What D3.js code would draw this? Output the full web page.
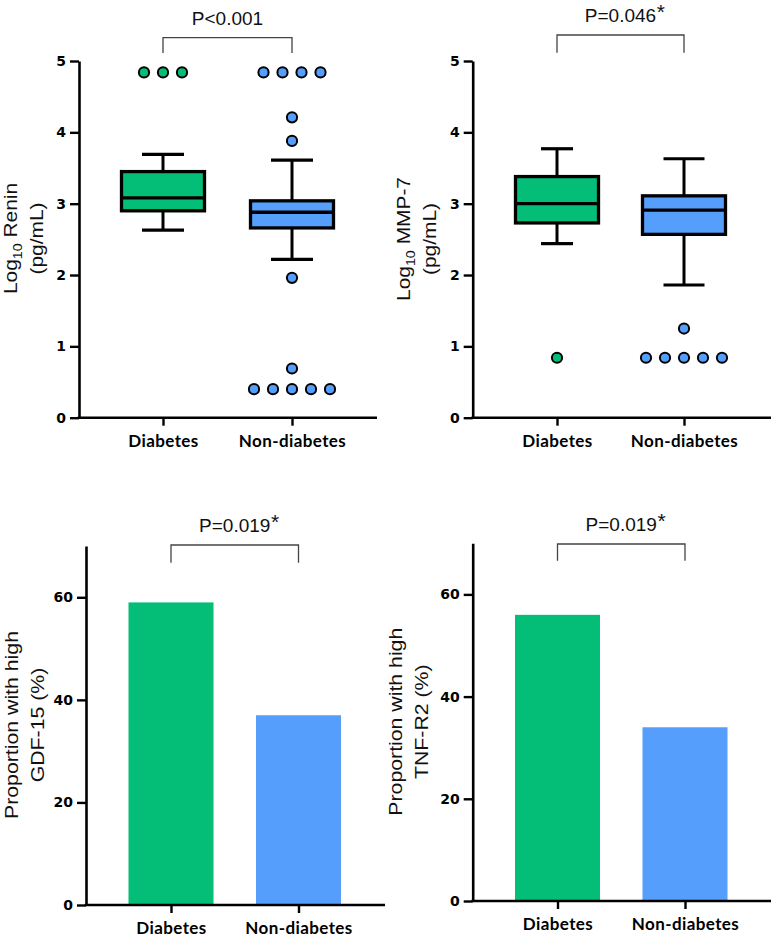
<!DOCTYPE html>
<html>
<head>
<meta charset="utf-8">
<script src="https://cdn.jsdelivr.net/npm/d3@7"></script>
<style>
  html, body { margin: 0; padding: 0; background: #fff; }
  svg { display: block; }
</style>
</head>
<body>
<svg id="chart" width="771" height="937"></svg>
<script>
// ---------------- DATA ----------------
const categories = ["Diabetes", "Non-diabetes"];

// box stats: [whisker low, Q1, median, Q3, whisker high]
const reninDiabetesBox = [2.63, 2.90, 3.08, 3.45, 3.69];
const reninNonDiabetesBox = [2.22, 2.66, 2.88, 3.04, 3.61];
const reninDiabetesOutliers = [4.84, 4.84, 4.84];
const reninNonDiabetesOutliers = [4.84, 4.84, 4.84, 4.84, 4.21, 3.88, 1.96, 0.69, 0.40, 0.40, 0.40, 0.40, 0.40];

const mmp7DiabetesBox = [2.44, 2.73, 3.00, 3.38, 3.77];
const mmp7NonDiabetesBox = [1.86, 2.57, 2.91, 3.11, 3.63];
const mmp7DiabetesOutliers = [0.84];
const mmp7NonDiabetesOutliers = [1.25, 0.84, 0.84, 0.84, 0.84, 0.84];

const gdf15Proportion = [59, 37];
const tnfr2Proportion = [56, 34];

const boxTicks = [0, 1, 2, 3, 4, 5];
const barTicks = [0, 20, 40, 60];

const pLabels = ["P<0.001", "P=0.046", "P=0.019", "P=0.019"];
const pStars = ["", "*", "*", "*"];

const colors = ["#04BE78", "#559EFC"];

// ---------------- DRAWING ----------------
const svg = d3.select("#chart");
const tickFont = "'DejaVu Sans', Verdana, sans-serif";
const titleFont = "'Liberation Sans', Arial, sans-serif";
const catFont = "Lato, 'Open Sans', sans-serif";

function drawAxes(g, cfg, yScale, xScale, ticks) {
  const yAxis = d3.axisLeft(yScale).tickValues(ticks).tickFormat(d3.format("d"))
    .tickSize(9).tickPadding(4).tickSizeOuter(0);
  const ya = g.append("g").attr("transform", `translate(${cfg.axisX},0)`).call(yAxis);
  ya.select(".domain").attr("stroke", "#000").attr("stroke-width", 2.6);
  ya.selectAll(".tick line").attr("stroke", "#000").attr("stroke-width", 2.4);
  ya.selectAll(".tick text").attr("fill", "#000").style("font-family", tickFont)
    .style("font-size", "14px").style("font-weight", "bold");

  const y0 = yScale(0);
  const xAxis = d3.axisBottom(xScale).tickSize(8).tickPadding(9).tickSizeOuter(0);
  const xa = g.append("g").attr("transform", `translate(0,${y0})`).call(xAxis);
  xa.select(".domain").remove();
  xa.selectAll(".tick line").attr("stroke", "#000").attr("stroke-width", 2.4);
  xa.selectAll(".tick text").attr("fill", "#000").style("font-family", catFont)
    .style("font-size", "17px").style("font-weight", "bold").style("letter-spacing", "0.4px");
  g.append("line").attr("x1", cfg.axisX - 1.3).attr("x2", cfg.xEnd)
    .attr("y1", y0).attr("y2", y0).attr("stroke", "#000").attr("stroke-width", 2.6);
}

function drawTitle(g, cfg, line1Parts, line2) {
  const t = g.append("g").attr("transform", `translate(${cfg.titleX},${cfg.titleY}) rotate(-90) scale(${cfg.titleStretch},1)`);
  const txt = t.append("text").attr("text-anchor", "middle").attr("x", 0).attr("y", 0)
    .style("font-family", titleFont).style("font-size", "19px").attr("fill", "#111");
  line1Parts.forEach(p => {
    const ts = txt.append("tspan").text(p.text);
    if (p.sub) ts.style("font-size", "13px").attr("dy", 5);
    if (p.after) ts.attr("dy", -5);
  });
  t.append("text").attr("text-anchor", "middle").attr("x", 0).attr("y", 26)
    .style("font-family", titleFont).style("font-size", "19px").attr("fill", "#111").text(line2);
}

function drawBracket(g, cfg, xScale, label, star) {
  const xa = xScale(categories[0]), xb = xScale(categories[1]);
  g.append("path")
    .attr("d", `M${xa},${cfg.brBottom}V${cfg.brTop}H${xb}V${cfg.brBottom}`)
    .attr("fill", "none").attr("stroke", "#444").attr("stroke-width", 1.3);
  const t = g.append("text").attr("x", (xa + xb) / 2).attr("y", cfg.brText)
    .attr("text-anchor", "middle").style("font-family", titleFont).style("font-size", "19px")
    .attr("fill", "#111").text(label);
  if (star) {
    const w = t.node().getComputedTextLength();
    g.append("text").attr("x", (xa + xb) / 2 + w / 2 + 0.5).attr("y", cfg.brText - 3)
      .style("font-family", titleFont).style("font-size", "21px").attr("fill", "#111").text(star);
  }
}

function boxPanel(cfg, boxes, outliers, capHalf, titleParts, title2, idx) {
  const g = svg.append("g");
  const y = d3.scaleLinear().domain([0, 5]).range([cfg.y0, cfg.y1]);
  const x = d3.scalePoint().domain(categories).range([cfg.c0, cfg.c1]);
  drawAxes(g, cfg, y, x, boxTicks);
  drawTitle(g, cfg, titleParts, title2);
  drawBracket(g, cfg, x, pLabels[idx], pStars[idx]);

  const halfW = 41.5;
  categories.forEach((c, i) => {
    const b = boxes[i];
    const cx = x(c);
    g.append("line").attr("x1", cx).attr("x2", cx).attr("y1", y(b[0])).attr("y2", y(b[1]))
      .attr("stroke", "#000").attr("stroke-width", 3);
    g.append("line").attr("x1", cx).attr("x2", cx).attr("y1", y(b[3])).attr("y2", y(b[4]))
      .attr("stroke", "#000").attr("stroke-width", 3);
    [b[0], b[4]].forEach(v => {
      g.append("line").attr("x1", cx - capHalf[i]).attr("x2", cx + capHalf[i])
        .attr("y1", y(v)).attr("y2", y(v)).attr("stroke", "#000").attr("stroke-width", 3.2);
    });
    g.append("rect").attr("x", cx - halfW).attr("width", 2 * halfW)
      .attr("y", y(b[3])).attr("height", y(b[1]) - y(b[3]))
      .attr("fill", colors[i]).attr("stroke", "#000").attr("stroke-width", 3.3);
    g.append("line").attr("x1", cx - halfW).attr("x2", cx + halfW)
      .attr("y1", y(b[2])).attr("y2", y(b[2])).attr("stroke", "#000").attr("stroke-width", 3.3);

    const groups = d3.groups(outliers[i], v => v);
    groups.forEach(([v, arr]) => {
      const n = arr.length;
      arr.forEach((_, k) => {
        g.append("circle").attr("cx", cx + (k - (n - 1) / 2) * 19).attr("cy", y(v))
          .attr("r", 5.1).attr("fill", colors[i]).attr("stroke", "#000").attr("stroke-width", 2);
      });
    });
  });
}

function barPanel(cfg, values, titleLines, idx) {
  const g = svg.append("g");
  const y = d3.scaleLinear().domain([0, 70]).range([cfg.y0, cfg.y1]);
  const x = d3.scalePoint().domain(categories).range([cfg.c0, cfg.c1]);
  const bw = 85;
  categories.forEach((c, i) => {
    g.append("rect").attr("x", x(c) - bw / 2).attr("width", bw)
      .attr("y", y(values[i])).attr("height", y(0) - y(values[i])).attr("fill", colors[i]);
  });
  drawAxes(g, cfg, y, x, barTicks);
  drawTitle(g, cfg, [{ text: titleLines[0] }], titleLines[1]);
  drawBracket(g, cfg, x, pLabels[idx], pStars[idx]);
}

boxPanel({ axisX: 79, xEnd: 377, y0: 417.7, y1: 61, c0: 163, c1: 292,
           titleX: 17, titleY: 238.5, titleStretch: 1.1, brTop: 37.7, brBottom: 53, brText: 25 },
  [reninDiabetesBox, reninNonDiabetesBox], [reninDiabetesOutliers, reninNonDiabetesOutliers], [21, 21],
  [{ text: "Log" }, { text: "10", sub: true }, { text: " Renin", after: true }], "(pg/mL)", 0);

boxPanel({ axisX: 472.7, xEnd: 771, y0: 417.7, y1: 61, c0: 557, c1: 684,
           titleX: 410, titleY: 239, titleStretch: 1.1, brTop: 35, brBottom: 52.7, brText: 21.7 },
  [mmp7DiabetesBox, mmp7NonDiabetesBox], [mmp7DiabetesOutliers, mmp7NonDiabetesOutliers], [16, 20.5],
  [{ text: "Log" }, { text: "10", sub: true }, { text: " MMP-7", after: true }], "(pg/mL)", 1);

barPanel({ axisX: 86, xEnd: 385, y0: 905, y1: 546, c0: 171, c1: 298.5,
           titleX: 18, titleY: 725, titleStretch: 1.12, brTop: 545, brBottom: 562.7, brText: 531.7 },
  gdf15Proportion, ["Proportion with high", "GDF-15 (%)"], 2);

barPanel({ axisX: 472.7, xEnd: 771, y0: 901, y1: 543.3, c0: 557.5, c1: 685,
           titleX: 402, titleY: 721.7, titleStretch: 1.12, brTop: 544, brBottom: 560.7, brText: 530.7 },
  tnfr2Proportion, ["Proportion with high", "TNF-R2 (%)"], 3);
</script>
</body>
</html>
